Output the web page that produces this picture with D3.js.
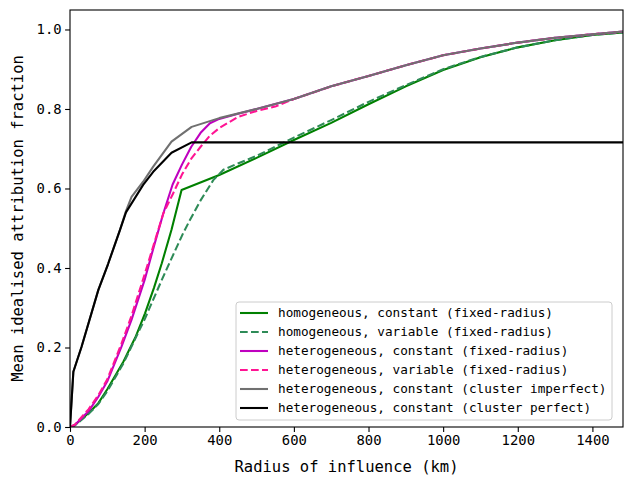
<!DOCTYPE html>
<html>
<head>
<meta charset="utf-8">
<script src="https://d3js.org/d3.v7.min.js"></script>
<style>
  body { margin: 0; background: #fff; }
  text { font-family: "DejaVu Sans Mono", monospace; }
</style>
</head>
<body>
<div id="chart"></div>
<script>
// Radius (km) and fraction for every series
var homConstR = [0, 13, 50, 76, 100, 143, 175, 201, 225, 246, 272, 299, 400, 500, 600, 700, 800, 900, 1000, 1100, 1200, 1300, 1400, 1485]
var homConstF = [0, 0.005, 0.035, 0.06, 0.095, 0.164, 0.225, 0.286, 0.35, 0.412, 0.496, 0.596, 0.634, 0.677, 0.722, 0.765, 0.812, 0.857, 0.898, 0.930, 0.955, 0.973, 0.986, 0.993]

var homVarR = [0, 13, 50, 76, 100, 143, 201, 246, 275, 303, 321, 350, 384, 411, 450, 500, 600, 700, 800, 900, 1000, 1100, 1200, 1300, 1400, 1485]
var homVarF = [0, 0.004, 0.033, 0.058, 0.09, 0.16, 0.273, 0.37, 0.43, 0.487, 0.52, 0.57, 0.621, 0.647, 0.663, 0.682, 0.728, 0.772, 0.818, 0.86, 0.90, 0.931, 0.955, 0.973, 0.986, 0.993]

var hetConstR = [0, 13, 50, 76, 100, 138, 165, 200, 225, 250, 275, 300, 325, 350, 375, 400, 450, 500, 600, 700, 800, 900, 1000, 1100, 1200, 1300, 1400, 1485]
var hetConstF = [0, 0.005, 0.04, 0.076, 0.115, 0.202, 0.27, 0.37, 0.455, 0.537, 0.61, 0.66, 0.705, 0.74, 0.764, 0.775, 0.788, 0.80, 0.825, 0.857, 0.883, 0.910, 0.935, 0.952, 0.967, 0.979, 0.988, 0.995]

var hetVarR = [0, 13, 50, 76, 100, 138, 165, 201, 250, 275, 300, 325, 350, 375, 400, 450, 500, 550, 600, 700, 800, 900, 1000, 1100, 1200, 1300, 1400, 1485]
var hetVarF = [0, 0.006, 0.045, 0.08, 0.12, 0.21, 0.28, 0.387, 0.537, 0.585, 0.635, 0.675, 0.705, 0.733, 0.752, 0.78, 0.795, 0.806, 0.825, 0.857, 0.883, 0.910, 0.935, 0.952, 0.967, 0.979, 0.988, 0.995]

var clusImpR = [0, 9, 31, 76, 102, 134, 150, 165, 196, 223, 272, 326, 400, 500, 600, 700, 800, 900, 1000, 1100, 1200, 1300, 1400, 1485]
var clusImpF = [0, 0.139, 0.202, 0.345, 0.41, 0.496, 0.543, 0.579, 0.617, 0.655, 0.718, 0.755, 0.777, 0.80, 0.825, 0.857, 0.883, 0.910, 0.935, 0.952, 0.967, 0.979, 0.988, 0.995]

var clusPerR = [0, 9, 31, 76, 102, 134, 150, 196, 223, 272, 326, 1485]
var clusPerF = [0, 0.139, 0.202, 0.345, 0.41, 0.496, 0.54, 0.609, 0.642, 0.690, 0.716, 0.716]

var seriesNames = [
    "homogeneous, constant (fixed-radius)",
    "homogeneous, variable (fixed-radius)",
    "heterogeneous, constant (fixed-radius)",
    "heterogeneous, variable (fixed-radius)",
    "heterogeneous, constant (cluster imperfect)",
    "heterogeneous, constant (cluster perfect)"
]
var xTicks = [0, 200, 400, 600, 800, 1000, 1200, 1400]
var yTicks = [0.0, 0.2, 0.4, 0.6, 0.8, 1.0]

var series = [
    {name: seriesNames[0], r: homConstR, f: homConstF, color: "#008000", dash: null},
    {name: seriesNames[1], r: homVarR, f: homVarF, color: "#2e8b57", dash: "7.7,3.3"},
    {name: seriesNames[2], r: hetConstR, f: hetConstF, color: "#bf00bf", dash: null},
    {name: seriesNames[3], r: hetVarR, f: hetVarF, color: "#ff1493", dash: "7.7,3.3"},
    {name: seriesNames[4], r: clusImpR, f: clusImpF, color: "#707070", dash: null},
    {name: seriesNames[5], r: clusPerR, f: clusPerF, color: "#000000", dash: null}
]

var margin = {top: 10, right: 1, bottom: 51, left: 70},
    svgWidth = 624,
    svgHeight = 478,
    chartWidth = svgWidth - margin.left - margin.right,
    chartHeight = svgHeight - margin.top - margin.bottom

var svg = d3.select("#chart").append("svg").attr("width", svgWidth).attr("height", svgHeight)
var chartGroup = svg.append("g").attr("transform", `translate(${margin.left}, ${margin.top})`)

var xScale = d3.scaleLinear().domain([0, 1482]).range([0, chartWidth])
var yScale = d3.scaleLinear().domain([0, 1.049]).range([chartHeight, 0])

// clip so lines stop at the right spine
chartGroup.append("clipPath").attr("id", "clip")
    .append("rect").attr("width", chartWidth).attr("height", chartHeight)

var line = d3.line()
    .x(function(d) { return xScale(d[0]) })
    .y(function(d) { return yScale(d[1]) })

var lines = chartGroup.append("g").attr("clip-path", "url(#clip)")
series.forEach(function(s) {
    var pts = s.r.map(function(r, i) { return [r, s.f[i]] })
    lines.append("path")
        .datum(pts)
        .attr("d", line)
        .attr("fill", "none")
        .attr("stroke", s.color)
        .attr("stroke-width", 2.08)
        .attr("stroke-linejoin", "round")
        .attr("stroke-dasharray", s.dash)
})

// axes
var xAxis = chartGroup.append("g")
    .attr("transform", `translate(0, ${chartHeight})`)
    .call(d3.axisBottom(xScale).tickValues(xTicks).tickFormat(d3.format("d")).tickSize(4.9).tickPadding(3.5).tickSizeOuter(0))
var yAxis = chartGroup.append("g")
    .call(d3.axisLeft(yScale).tickValues(yTicks).tickFormat(d3.format(".1f")).tickSize(4.9).tickPadding(3.5).tickSizeOuter(0))

;[xAxis, yAxis].forEach(function(a) {
    a.selectAll("text").attr("font-size", 13.9).attr("fill", "#000")
        .style("font-family", "'DejaVu Sans Mono', monospace")
    a.selectAll(".tick line").attr("stroke", "#000").attr("stroke-width", 1.1)
    a.select(".domain").remove()
})

// frame
chartGroup.append("rect")
    .attr("width", chartWidth).attr("height", chartHeight)
    .attr("fill", "none").attr("stroke", "#000").attr("stroke-width", 1.1)

// axis labels
chartGroup.append("text")
    .attr("x", chartWidth / 2).attr("y", chartHeight + 45)
    .attr("text-anchor", "middle").attr("font-size", 15.5)
    .text("Radius of influence (km)")

chartGroup.append("text")
    .attr("transform", "rotate(-90)")
    .attr("x", -chartHeight / 2).attr("y", -47)
    .attr("text-anchor", "middle").attr("font-size", 15.5)
    .text("Mean idealised attribution fraction")

// legend
var legend = chartGroup.append("g").attr("transform", `translate(${236 - margin.left}, ${302 - margin.top})`)
legend.append("rect")
    .attr("width", 376).attr("height", 118).attr("rx", 3)
    .attr("fill", "#fff").attr("fill-opacity", 0.8)
    .attr("stroke", "#cccccc").attr("stroke-width", 1)

series.forEach(function(s, i) {
    var yy = 11 + i * 19
    legend.append("line")
        .attr("x1", 4).attr("x2", 32).attr("y1", yy).attr("y2", yy)
        .attr("stroke", s.color).attr("stroke-width", 2.08)
        .attr("stroke-dasharray", s.dash)
    legend.append("text")
        .attr("x", 42).attr("y", yy).attr("dy", "0.35em")
        .attr("font-size", 12.7)
        .text(s.name)
})
</script>
</body>
</html>
